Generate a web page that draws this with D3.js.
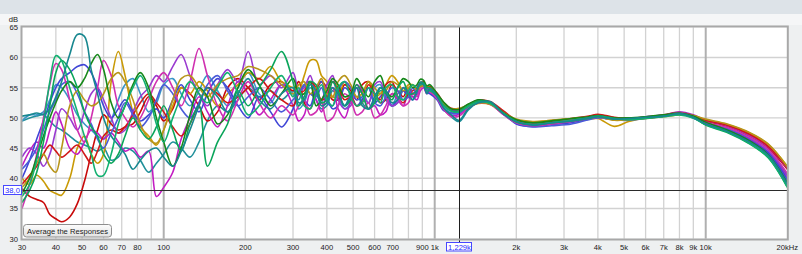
<!DOCTYPE html>
<html><head><meta charset="utf-8">
<script src="https://cdn.jsdelivr.net/npm/d3@7"></script>
<style>body{margin:0;background:#eef0f1;}svg{display:block;}</style>
</head><body>
<svg id="chart" width="802" height="254"></svg>
<script>
// Frequencies (Hz) shared by every response
const freqs = [30,32,34,36,38,40,42,45,48,51,54,57,60,64,68,72,77,82,88,94,100,108,116,125,135,145,158,172,188,205,225,248,272,
  300,315,330,347,365,382,400,420,440,465,490,515,540,570,600,630,660,695,730,765,800,830,860,885,910,935,960,
  1020,1080,1150,1230,1330,1450,1600,1800,2000,2300,2700,3200,3700,4000,4600,5200,6000,7000,8000,9000,10000,12000,14500,17000,20000];

// Individual responses (dB SPL)
const respTeal = [50.3,50.5,50.8,50.6,51.5,53.5,56,60.5,63.8,63.5,58,54,50,47,45.5,44,41.5,43,44.5,45,43.5,42,44.5,48,52,55,53.5,51,54,56.5,53,51.5,54,
  55,52.5,53,55.5,54.5,52,52.5,55,54,52,53.5,55,52,51.5,53.5,55,54.5,52.5,53,55,54,53,54.5,55.8,55.5,54,54.8,
  53.5,51.6,50.5,49.6,51.5,52.5,52.7,50.6,49.4,48.8,49.2,49.5,50.0,50.2,49.8,49.9,50.1,50.3,50.7,50.1,49.0,47.8,46.0,43.8,39.0];
const respRed = [38.3,37,36.5,36,34,33.3,32.8,33.6,35.8,39.5,44,48,50.5,49,48,48.5,49,51,53.5,52,49.5,51.5,55,54,52,49.5,51,55,56.5,55,53,55.5,56,
  54.5,56,52.5,51.5,54.5,56,55,53,53,55.5,54.5,53,55.5,56,54,52.5,53,55.5,54.5,53.5,55,54,54,55.5,56,55,55,
  53.8,52.2,51.3,51.2,52.1,52.8,52.5,50.9,49.6,49.1,49.4,49.8,50.2,50.5,50.0,49.9,50.1,50.4,50.8,50.3,49.5,48.6,47.0,45.0,41.5];
const respSeaGreen = [37,39,43,49,56,60.3,59.5,55,51,47,44,40.5,40.5,44,49,52,55,57,54,49,46,50,53.5,56,54,52.5,55,57.5,54,50.5,52,55,57,
  53.5,55,52,51.5,54,55.5,53,52,55,56,53.5,52,52.5,55,54,52.5,55,55.5,53.5,53,54.5,55.5,55,55.5,55.6,54.5,54.5,
  53.6,52.0,51.1,51.0,51.9,52.6,52.4,50.7,49.4,48.9,49.2,49.6,50.0,50.3,49.9,49.7,49.9,50.2,50.5,50.0,48.9,47.7,45.8,43.5,38.6];
const respMagenta = [42,44.5,46,45,48,51,49,45,44,46,48,47.5,46.5,47.5,46,44.5,45,43.5,44.5,37,38.5,41,46.5,50,53.5,51,48.5,52,56,54,50.5,53,55.5,
  52,49.5,50.5,54,53,51,54,55,51.5,50,53,55.5,54.5,51.5,52,50.5,51,54,53,52,54,53.5,53,54.5,55,54,54.3,
  53.2,51.5,50.4,50.6,51.7,52.5,52.3,50.5,49.2,48.7,49.0,49.4,49.9,50.1,49.7,49.8,50.0,50.3,50.8,50.2,49.2,48.2,46.5,44.4,40.3];
const respBlue = [40,43,46.5,49.5,52.5,55,56.5,57.5,58.5,58.8,57.5,55,52,50,51.5,53,51,49.5,50.5,51.5,50,53,55.5,53,51,54,56.5,55,52,50,53.5,51,48.5,
  51.5,54.5,53,52,55,56,53.5,51.5,52,55,54,52,53,55,52.5,53.5,54.5,52,53,54.5,53.5,53,54.5,55.5,55.2,54.2,54,
  53.0,51.2,50.8,51.0,52.1,52.9,52.6,50.9,49.0,48.6,48.9,49.2,49.8,50.1,49.8,49.7,50.0,50.3,50.6,50.1,49.2,48.0,46.3,44.2,39.8];
const respGold = [40,39,40.5,39.5,38,37.5,37.2,40,45,47,44,42.5,44,56,61,57,51,48.5,47,45.5,48,52,55,54,56,54.5,52,54,55.5,57.5,56.5,58.5,56,
  55,54.5,57,59.5,59.5,57,56,53.5,53.5,56,55,53.5,54,56,53.5,54,55.5,57,56,54.5,55.5,55.5,55,55.5,55.4,55,54.8,
  53.9,52.4,51.4,51.3,51.8,52.4,52.2,50.6,49.5,49.3,49.6,49.8,49.8,49.9,48.6,49.4,50.0,50.3,50.6,50.3,49.7,48.9,47.5,45.6,42.0];
const respDarkGreen = [37.5,40,43.5,47,50,52.5,54.5,56,55,56.5,59,60.5,58,52.5,50,52,55.5,57.5,55,50,46,42,45,50.5,55,53.5,49,50.5,55,58,55.5,52,54,
  56.5,54,54,56,52,53,54.5,56.5,55.5,53.5,54,56.5,55,53.5,56,57,54.5,53.5,55,56.5,56,55,55.5,56.4,56.2,55.3,55.5,
  54.0,52.6,51.5,51.4,52.3,53.0,52.6,50.8,49.7,49.2,49.5,49.9,50.2,50.4,50.0,50.0,50.2,50.5,50.8,50.3,49.3,48.0,46.2,43.9,39.2];
const respPurple = [43.5,45,44,42,44,48,51.5,50,48,51,54,55,53,50,47.5,48,51,53.5,55,57,56,58.5,60.5,57,54,52,55.5,58,56,61,55.5,57,55,
  57.5,54.5,55,57,54,53,55.5,57,53,51.5,52,55,54,52.5,55.5,56,53.5,52,52.5,55,54.5,54,55,55.9,55.8,55,55,
  53.9,52.2,51.3,51.4,52.2,52.9,52.5,50.9,49.5,49.0,49.4,49.8,50.2,50.4,50.0,49.9,50.2,50.5,51.0,50.5,49.6,48.7,47.1,45.2,41.7];
const respSteel = [49.5,50.5,50.5,51,53,55.5,55,53,50.5,49,48,47,46.5,49.5,53,55.5,56.5,54,51,52.5,55.5,56.5,54,52,54.5,57,54.5,52,55,57.5,54,52.5,55.5,
  54,51.5,52.5,55,54,52.5,55.5,56,54,51.5,52.5,55,54.5,52.5,55,55.5,53,52,54,55,54.5,53.5,54,55.3,55.2,54.4,54.6,
  53.4,51.7,50.8,50.9,52.0,52.8,52.6,50.8,49.3,48.8,49.1,49.5,50.0,50.2,49.8,49.7,50.0,50.4,50.7,50.2,49.0,48.0,46.4,44.3,40.2];
const respRed2 = [39,40.5,42,44,45.5,44.5,43.5,44.5,45.5,44,42.5,44.5,47,48,47.5,48.5,50.5,52.5,54,52.5,51,48.5,47,49,52.5,55,54,52.5,53.5,55,56.5,54.5,53,
  52,54,54.5,56,55,53,53.5,56,55,53,53.5,52,52.5,55.5,54,53,55.5,56,53.5,52.5,54,54.5,55,55.7,55.8,55.2,55.2,
  54.1,52.5,51.6,51.5,52.2,52.9,52.7,51.1,49.7,49.2,49.5,49.9,50.3,50.6,50.1,49.9,50.1,50.5,50.9,50.4,49.6,48.8,47.3,45.3,41.8];
const respGreen2 = [36,38,41,46,52,57.5,59.5,58,55,51,48.5,47,44,42.5,44,47,50,48,46.5,48.5,52,48,44.5,49,52,42,46,49,54.5,52,55,58,61,
  56,52,53.5,56,55.5,52.5,53,56,54.5,52,53,55.5,54,51.5,52.5,55,54,53,55,56,54,54,54.5,55.9,55.8,55,55,
  53.7,52.1,51.2,51.1,52.0,52.8,52.5,50.7,49.3,48.9,49.2,49.5,49.9,50.2,49.8,49.8,50.0,50.3,50.6,50.1,48.8,47.6,45.7,43.4,38.5];
const respMagenta2 = [35,39,44,50,55.5,59,58,53,48,46,50,55,59.5,57,52,50,48.5,50,53,56,57.5,55,52,56,61.5,57,52,49.5,53,56,52.5,50,52,
  50.5,52,53,50.5,51,52.5,49.5,50,52,54,53,50.5,51,52.5,50,50.5,52,54,53.5,52,52.5,54,53.5,55,55.2,54.5,54.3,
  53.2,51.4,50.2,50.3,51.6,52.5,52.3,50.5,49.2,48.7,49.0,49.4,49.9,50.1,49.7,49.8,50.1,50.4,50.9,50.3,49.3,48.4,46.8,44.8,40.8];
const respBlue2 = [41.5,43,45,48,51,53,55.5,56,54,51,49,46.5,45,47.5,50,52.5,50.5,48.5,50,53,55.5,54,51.5,50,52.5,55.5,57,54.5,52,53.5,55,53,51,
  53,54,55.5,54,53.5,55,52.5,52,54.5,56,55,53,53.5,55,52.5,52,53.5,55,54.5,53,53.5,55,54,55.4,55.4,54.8,54.6,
  53.3,51.6,50.7,50.8,51.9,52.7,52.4,50.6,49.1,48.5,48.7,49.0,49.7,50.0,49.7,49.6,49.9,50.3,50.7,50.0,49.1,48.2,46.7,44.7,40.6];
const respGold2 = [38.5,40,42.5,44,42,41,45,52,54.5,53,52,52.5,54,56.5,57.5,56,53,49,46.5,45.8,48,53,56.5,57,55,53.5,55.5,56.5,57,58.5,58,57,55.5,
  54,55.5,56,54,55,56.5,54,53.5,56,57,55.5,53.5,54,56,55,54,54.5,56,55.5,54.5,55,55.5,54.5,55.2,55.3,55.2,55,
  53.7,52.3,51.5,51.6,52.0,52.5,52.3,50.8,49.8,49.4,49.6,49.9,50.1,50.2,49.6,49.7,49.9,50.2,50.5,50.4,49.8,49.0,47.6,45.7,41.9];
const respTeal2 = [49.5,50,50.3,50.5,49.5,48.5,48,47,46,45.5,45,44.5,45,43,43.5,45,44.5,43,41,42.5,44,46,45,43.5,46,49.5,52,51,53,55,53.5,54.5,53,
  54.5,53,55.5,56,53,51.5,52,54.5,53.5,52,54,55,52.5,51.5,53,54.5,54,52,52.5,54.5,53.5,53,54,55.5,55.6,54.7,54.6,
  53.5,51.5,50.2,49.4,51.3,52.6,52.6,50.7,49.3,48.8,49.1,49.5,50.0,50.2,49.8,49.8,50.0,50.3,50.6,50.0,48.9,47.9,46.3,44.0,39.5];

const responses = [respTeal2, respSteel, respRed, respGold, respMagenta, respBlue, respPurple, respRed2, respBlue2, respMagenta2, respGold2, respDarkGreen, respGreen2, respSeaGreen, respTeal];
const responseColors = ["#20909a","#3a96c8","#c80a0a","#c99a06","#c21cc2","#3f45d6","#9a3ad0","#d01818","#4a5ad8","#d030b0","#b8951a","#16881a","#0aa55a","#12b070","#17878f"];

// Axis labels
const yTickValues = [30,35,40,45,50,55,60,65];
const xLabelFreqs = [30,40,50,60,70,80,100,200,300,400,500,600,700,900,1000,2000,3000,4000,5000,6000,7000,8000,9000,10000,20000];
const xLabelTexts = ["30","40","50","60","70","80","100","200","300","400","500","600","700","900","1k","2k","3k","4k","5k","6k","7k","8k","9k","10k","20kHz"];
const cursorFreq = 1229, cursorDb = 38.0;
const cursorFreqText = "1,229k", cursorDbText = "38,0";
const buttonText = "Average the Responses";

const svg = d3.select("#chart");
const FONT = "'Liberation Sans', Arial, sans-serif";

const x = d3.scaleLog().domain([30,20000]).range([22,787.3]);
const y = d3.scaleLinear().domain([30,65]).range([238.7,27.3]);

// backgrounds
svg.append("rect").attr("x",0).attr("y",0).attr("width",802).attr("height",254).attr("fill","#eef0f1");
svg.append("rect").attr("x",0).attr("y",0).attr("width",802).attr("height",14).attr("fill","#dde3e8");
svg.append("rect").attr("x",0).attr("y",14).attr("width",802).attr("height",11).attr("fill","#f5f6f7");

const x0 = x.range()[0], x1 = x.range()[1], yTop = y.range()[1], yBot = y.range()[0];
svg.append("rect").attr("x",x0).attr("y",yTop).attr("width",x1-x0).attr("height",yBot-yTop).attr("fill","#ffffff");

// grid
const grid = svg.append("g");
grid.selectAll("line.h").data(yTickValues.slice(1,-1)).join("line")
  .attr("x1",x0).attr("x2",x1).attr("y1",d=>y(d)).attr("y2",d=>y(d))
  .attr("stroke","#d2d2d2").attr("stroke-width",1.4);
const vt = x.ticks().filter(d=>d>30 && d<20000);
grid.selectAll("line.v").data(vt).join("line")
  .attr("x1",d=>x(d)).attr("x2",d=>x(d)).attr("y1",yTop).attr("y2",yBot)
  .attr("stroke",d=>Number.isInteger(Math.log10(d))?"#b0b0b0":"#d2d2d2")
  .attr("stroke-width",d=>Number.isInteger(Math.log10(d))?2:1.3);

// curves
svg.append("clipPath").attr("id","clip").append("rect")
  .attr("x",x0).attr("y",yTop).attr("width",x1-x0).attr("height",yBot-yTop);
const line = d3.line().x(d=>x(d[0])).y(d=>y(d[1])).curve(d3.curveCatmullRom.alpha(0.5));
svg.append("g").attr("clip-path","url(#clip)").selectAll("path").data(responses).join("path")
  .attr("d",r=>line(freqs.map((f,i)=>[f,r[i]])))
  .attr("fill","none").attr("stroke",(r,i)=>responseColors[i]).attr("stroke-width",1.6)
  .attr("stroke-linejoin","round");

// cursor lines
svg.append("line").attr("x1",x0-1).attr("x2",x1+1).attr("y1",Math.round(y(cursorDb))+0.5).attr("y2",Math.round(y(cursorDb))+0.5)
  .attr("stroke","#2a2a2a").attr("stroke-width",1);
svg.append("line").attr("x1",Math.round(x(cursorFreq))+0.5).attr("x2",Math.round(x(cursorFreq))+0.5).attr("y1",yTop-1).attr("y2",243)
  .attr("stroke","#1e1e1e").attr("stroke-width",1);

// frame
svg.append("rect").attr("x",x0-0.5).attr("y",yTop-0.8).attr("width",x1-x0+1).attr("height",yBot-yTop+1.6)
  .attr("fill","none").attr("stroke","#a8a8a8").attr("stroke-width",2);

// axis labels
const lab = svg.append("g").attr("font-family",FONT).attr("font-size","7.6px").attr("fill","#1a1a1a");
lab.selectAll("text.y").data(yTickValues).join("text")
  .attr("x",18).attr("y",d=>y(d)+2.8).attr("text-anchor","end").text(d=>d);
lab.append("text").attr("x",18).attr("y",21.5).attr("text-anchor","end").text("dB");
lab.selectAll("text.x").data(xLabelFreqs).join("text")
  .attr("x",d=>x(d)).attr("y",249.5).attr("text-anchor","middle").text((d,i)=>xLabelTexts[i]);

// cursor readouts
const cy = Math.round(y(cursorDb));
svg.append("rect").attr("x",3.5).attr("y",cy-4.5).attr("width",18).attr("height",9).attr("fill","#ffffff").attr("stroke","#4848ff").attr("stroke-width",1);
svg.append("text").attr("x",12.5).attr("y",cy+2.8).attr("text-anchor","middle").attr("font-family",FONT).attr("font-size","7.6px").attr("fill","#2a2aff").text(cursorDbText);
const cx = Math.round(x(cursorFreq));
svg.append("rect").attr("x",cx-12.5).attr("y",242.5).attr("width",25).attr("height",8.5).attr("fill","#ffffff").attr("stroke","#4848ff").attr("stroke-width",1);
svg.append("text").attr("x",cx+0.5).attr("y",249.5).attr("text-anchor","middle").attr("font-family",FONT).attr("font-size","7.6px").attr("fill","#2a2aff").text(cursorFreqText);

// button
const defs = svg.append("defs");
const gr = defs.append("linearGradient").attr("id","btn").attr("x1",0).attr("y1",0).attr("x2",0).attr("y2",1);
gr.append("stop").attr("offset","0%").attr("stop-color","#fdfdfd");
gr.append("stop").attr("offset","100%").attr("stop-color","#e2e2e2");
svg.append("rect").attr("x",23.5).attr("y",224.5).attr("width",88).attr("height",12.5).attr("rx",3)
  .attr("fill","url(#btn)").attr("stroke","#8e8e8e").attr("stroke-width",1);
svg.append("text").attr("x",67.5).attr("y",233.6).attr("text-anchor","middle").attr("font-family",FONT)
  .attr("font-size","7.6px").attr("fill","#1a1a1a").text(buttonText);
</script>
</body></html>
